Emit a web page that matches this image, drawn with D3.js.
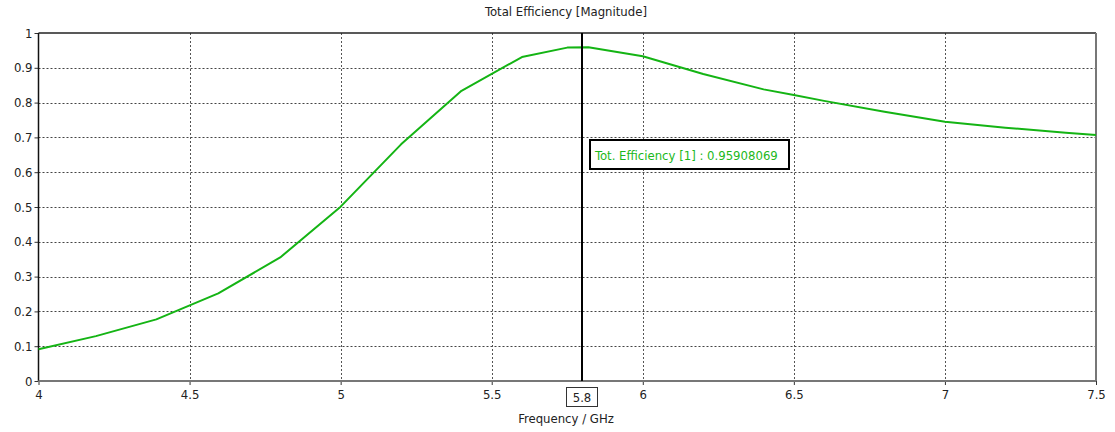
<!DOCTYPE html>
<html><head><meta charset="utf-8">
<script src="https://cdn.jsdelivr.net/npm/d3@7"></script>
<style>
body{margin:0;background:#fff;}
text{font-family:"DejaVu Sans Condensed","DejaVu Sans",sans-serif;}
</style></head>
<body><svg id="c" width="1115" height="432"></svg>
<script>
const freq = [4.0, 4.19, 4.39, 4.595, 4.8, 5.0, 5.2, 5.4, 5.6, 5.75, 5.82, 6.0, 6.2, 6.4, 6.5, 6.6, 6.8, 7.0, 7.2, 7.4, 7.5];
const eff  = [0.091, 0.129, 0.177, 0.252, 0.355, 0.501, 0.68, 0.834, 0.931, 0.958, 0.959, 0.933, 0.882, 0.838, 0.822, 0.805, 0.774, 0.745, 0.728, 0.7135, 0.707];
const xTicks = [4, 4.5, 5, 5.5, 6, 6.5, 7, 7.5];
const yTicks = [0, 0.1, 0.2, 0.3, 0.4, 0.5, 0.6, 0.7, 0.8, 0.9, 1];
const title = "Total Efficiency [Magnitude]";
const xTitle = "Frequency / GHz";
const markerX = 5.8;
const markerLabel = "Tot. Efficiency [1] : 0.95908069";

const FF = '"DejaVu Sans Condensed","DejaVu Sans",sans-serif';
const FS = 13;
const svg = d3.select("#c");
const L = 38.5, R = 1096, T = 33, B = 381;
const x = d3.scaleLinear().domain([4, 7.5]).range([L, R]);
const y = d3.scaleLinear().domain([0, 1]).range([B, T]);

// grid
const g = svg.append("g");
g.selectAll(".hg").data(yTicks.filter(d => d > 0 && d < 1)).enter().append("line")
  .attr("x1", L).attr("x2", R).attr("y1", d => Math.round(y(d)) + 0.5).attr("y2", d => Math.round(y(d)) + 0.5)
  .attr("stroke", "#444").attr("stroke-dasharray", "2,2").attr("stroke-width", 1);
g.selectAll(".vg").data(xTicks.filter(d => d > 4 && d < 7.5)).enter().append("line")
  .attr("y1", T).attr("y2", B).attr("x1", d => Math.round(x(d)) + 0.5).attr("x2", d => Math.round(x(d)) + 0.5)
  .attr("stroke", "#555").attr("stroke-dasharray", "2,2").attr("stroke-width", 1);

// axes
const xAxis = d3.axisBottom(x).tickValues(xTicks).tickSize(4).tickFormat(d3.format("~g"));
const yAxis = d3.axisLeft(y).tickValues(yTicks).tickSize(4).tickFormat(d3.format("~g"));
const xa = svg.append("g").attr("transform", `translate(0,${B})`).call(xAxis);
const ya = svg.append("g").attr("transform", `translate(${L},0)`).call(yAxis);
xa.select(".domain").remove(); ya.select(".domain").remove();
xa.selectAll("line").attr("stroke", "#333");
ya.selectAll("line").attr("stroke", "#333");
xa.selectAll("text").attr("font-size", FS).attr("fill", "#222").attr("y", 9).attr("dy", "0.71em")
  .attr("font-family", FF);
ya.selectAll("text").attr("font-size", FS).attr("fill", "#222").attr("x", -6)
  .attr("font-family", FF);

// frame
svg.append("line").attr("x1", L).attr("x2", R).attr("y1", T).attr("y2", T).attr("stroke", "#222").attr("stroke-width", 1.5);
svg.append("line").attr("x1", L).attr("x2", L).attr("y1", T).attr("y2", B).attr("stroke", "#111").attr("stroke-width", 1.5);
svg.append("line").attr("x1", L).attr("x2", R).attr("y1", B).attr("y2", B).attr("stroke", "#777").attr("stroke-width", 2);
svg.append("line").attr("x1", R).attr("x2", R).attr("y1", T).attr("y2", B).attr("stroke", "#777").attr("stroke-width", 2);

// curve
const line = d3.line().x((d, i) => x(freq[i])).y(d => y(d));
svg.append("path").datum(eff).attr("d", line).attr("fill", "none")
  .attr("stroke", "#14b414").attr("stroke-width", 2).attr("stroke-linejoin", "round");

// marker
const mx = Math.round(x(markerX));
svg.append("line").attr("x1", mx).attr("x2", mx).attr("y1", T).attr("y2", B).attr("stroke", "#000").attr("stroke-width", 2);
svg.append("rect").attr("x", mx - 15.5).attr("y", 387.5).attr("width", 31).attr("height", 19)
  .attr("fill", "#fff").attr("stroke", "#333").attr("stroke-width", 1);
svg.append("text").attr("x", mx).attr("y", 402).attr("text-anchor", "middle").attr("font-size", FS).attr("fill", "#222").text(markerX);

// annotation
const tb = svg.append("g");
tb.append("rect").attr("x", mx + 8).attr("y", 140).attr("width", 199).attr("height", 29)
  .attr("fill", "#fff").attr("stroke", "#000").attr("stroke-width", 2);
tb.append("text").attr("x", mx + 13).attr("y", 159.5).attr("font-size", FS).attr("fill", "#1cb81c").text(markerLabel);

// titles
svg.append("text").attr("x", 566).attr("y", 16).attr("text-anchor", "middle").attr("font-size", FS).attr("fill", "#222").text(title);
svg.append("text").attr("x", 566).attr("y", 423).attr("text-anchor", "middle").attr("font-size", FS).attr("fill", "#222").text(xTitle);
</script></body></html>
